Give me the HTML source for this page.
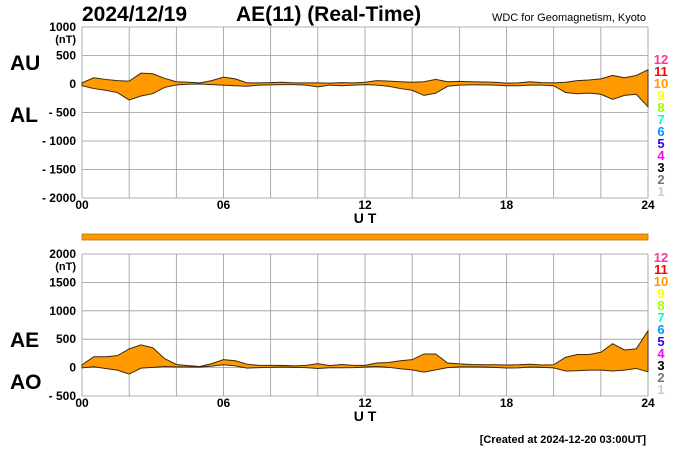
<!DOCTYPE html>
<html><head><meta charset="utf-8"><style>
body{margin:0;background:#fff;}
svg{display:block;font-family:"Liberation Sans",sans-serif;}
</style></head><body>
<svg id="c" width="700" height="450"></svg>
<script>
const hours=[0,0.5,1,1.5,2,2.5,3,3.5,4,4.5,5,5.5,6,6.5,7,7.5,8,8.5,9,9.5,10,10.5,11,11.5,12,12.5,13,13.5,14,14.5,15,15.5,16,16.5,17,17.5,18,18.5,19,19.5,20,20.5,21,21.5,22,22.5,23,23.5,24];
const auValues=[20,110,80,60,50,190,180,100,40,30,20,60,120,90,20,20,25,30,20,20,20,15,25,20,30,60,50,40,30,40,80,40,45,40,35,30,15,20,40,25,20,30,60,70,90,150,110,150,250];
const alValues=[-30,-80,-110,-150,-280,-210,-170,-60,-15,-5,0,-10,-20,-30,-40,-20,-15,-10,-10,-20,-50,-20,-30,-20,-10,-20,-40,-80,-110,-200,-160,-40,-20,-15,-15,-20,-30,-30,-20,-20,-30,-150,-170,-160,-180,-270,-200,-180,-400];
const aeValues=[50,190,190,210,330,400,350,160,55,35,20,70,140,120,60,40,40,40,30,40,70,35,55,40,40,80,90,120,140,240,240,80,65,55,50,50,45,50,60,45,50,180,230,230,270,420,310,330,650];
const aoValues=[-5,15,-15,-45,-115,-10,5,20,12,12,10,25,50,30,-10,0,5,10,5,0,-15,-3,-3,0,10,20,5,-20,-40,-80,-40,0,12,12,10,5,-8,-5,10,3,-5,-60,-55,-45,-45,-60,-45,-15,-75];
const topTicks=[1000,500,0,-500,-1000,-1500,-2000];
const botTicks=[2000,1500,1000,500,0,-500];
const xTickLabels=["00","06","12","18","24"];
const levelLabels=["12","11","10","9","8","7","6","5","4","3","2","1"];
const levelColors=["#ff3399","#ff0000","#ff9900","#ffff00","#99ff00","#00ffcc","#0099ff","#3300ff","#ff00ff","#000000","#777777","#cccccc"];

const NS="http://www.w3.org/2000/svg";
const svg=document.getElementById('c');
function mk(tag,attrs,parent,name,text){const e=document.createElementNS(NS,tag);for(const k in attrs)e.setAttribute(k,attrs[k]);


if(text!==undefined)e.textContent=text;(parent||svg).appendChild(e);return e;}
const X0=82,X1=648;
const x=h=>X0+(X1-X0)*h/24;
const yTop=v=>27+(1000-v)*171/3000;
const yBot=v=>254+(2000-v)*142/2500;

function panel(yf,ymax,ymin,ticks,prefix,upper,lower,lab1,lab2,lab1y,lab2y,lblTop){
  const g=mk('g',{},svg,prefix+'-panel');
  for(let h=0;h<=24;h+=2)mk('line',{x1:x(h),x2:x(h),y1:yf(ymax),y2:yf(ymin),stroke:'#999','stroke-width':0.8},g,'grid-vertical');
  ticks.forEach(t=>{mk('line',{x1:X0,x2:X1,y1:yf(t),y2:yf(t),stroke:'#999','stroke-width':0.8},g,'grid-horizontal');
    const lbl=t<0?'- '+(-t):String(t);
    mk('text',{x:X0-6,y:yf(t)+4,'text-anchor':'end','font-size':12,'font-weight':'bold'},g,'y-tick-label',lbl);});
  mk('text',{x:X0-6,y:yf(ticks[0])+16,'text-anchor':'end','font-size':11,'font-weight':'bold'},g,'y-unit','(nT)');
  let d='M'+x(hours[0])+','+yf(upper[0]);
  for(let i=1;i<hours.length;i++)d+='L'+x(hours[i])+','+yf(upper[i]);
  for(let i=hours.length-1;i>=0;i--)d+='L'+x(hours[i])+','+yf(lower[i]);
  mk('path',{d:d+'Z',fill:'#ff9900',stroke:'#3a2a10','stroke-width':1},g,prefix+'-band');
  xTickLabels.forEach((l,i)=>mk('text',{x:x(i*6),y:yf(ymin)+11,'text-anchor':'middle','font-size':12,'font-weight':'bold'},g,'x-tick-label',l));
  mk('text',{x:365,y:yf(ymin)+25,'text-anchor':'middle','font-size':14,'font-weight':'bold'},g,'x-axis-title','U T');
  mk('text',{x:10,y:lab1y,'font-size':21,'font-weight':'bold'},g,'series-label-'+lab1.toLowerCase(),lab1);
  mk('text',{x:10,y:lab2y,'font-size':21,'font-weight':'bold'},g,'series-label-'+lab2.toLowerCase(),lab2);
  levelLabels.forEach((l,i)=>mk('text',{x:661,y:lblTop+i*12,'text-anchor':'middle','font-size':13,'font-weight':'bold',fill:levelColors[i]},g,'level-legend-'+l,l));
}
mk('text',{x:82,y:21,'font-size':21,'font-weight':'bold'},svg,'chart-date','2024/12/19');
mk('text',{x:236,y:21,'font-size':21,'font-weight':'bold'},svg,'chart-title','AE(11) (Real-Time)');
mk('text',{x:646,y:21,'text-anchor':'end','font-size':11},svg,'source-label','WDC for Geomagnetism, Kyoto');
panel(yTop,1000,-2000,topTicks,'au-al',auValues,alValues,'AU','AL',70,122,64);
mk('rect',{x:82,y:234,width:566,height:6,fill:'#ff9900',stroke:'#c07000','stroke-width':0.8},svg,'coverage-bar');
panel(yBot,2000,-500,botTicks,'ae-ao',aeValues,aoValues,'AE','AO',347,389,262);
mk('text',{x:646,y:443,'text-anchor':'end','font-size':11,'font-weight':'bold'},svg,'created-timestamp','[Created at 2024-12-20 03:00UT]');
</script>
</body></html>
